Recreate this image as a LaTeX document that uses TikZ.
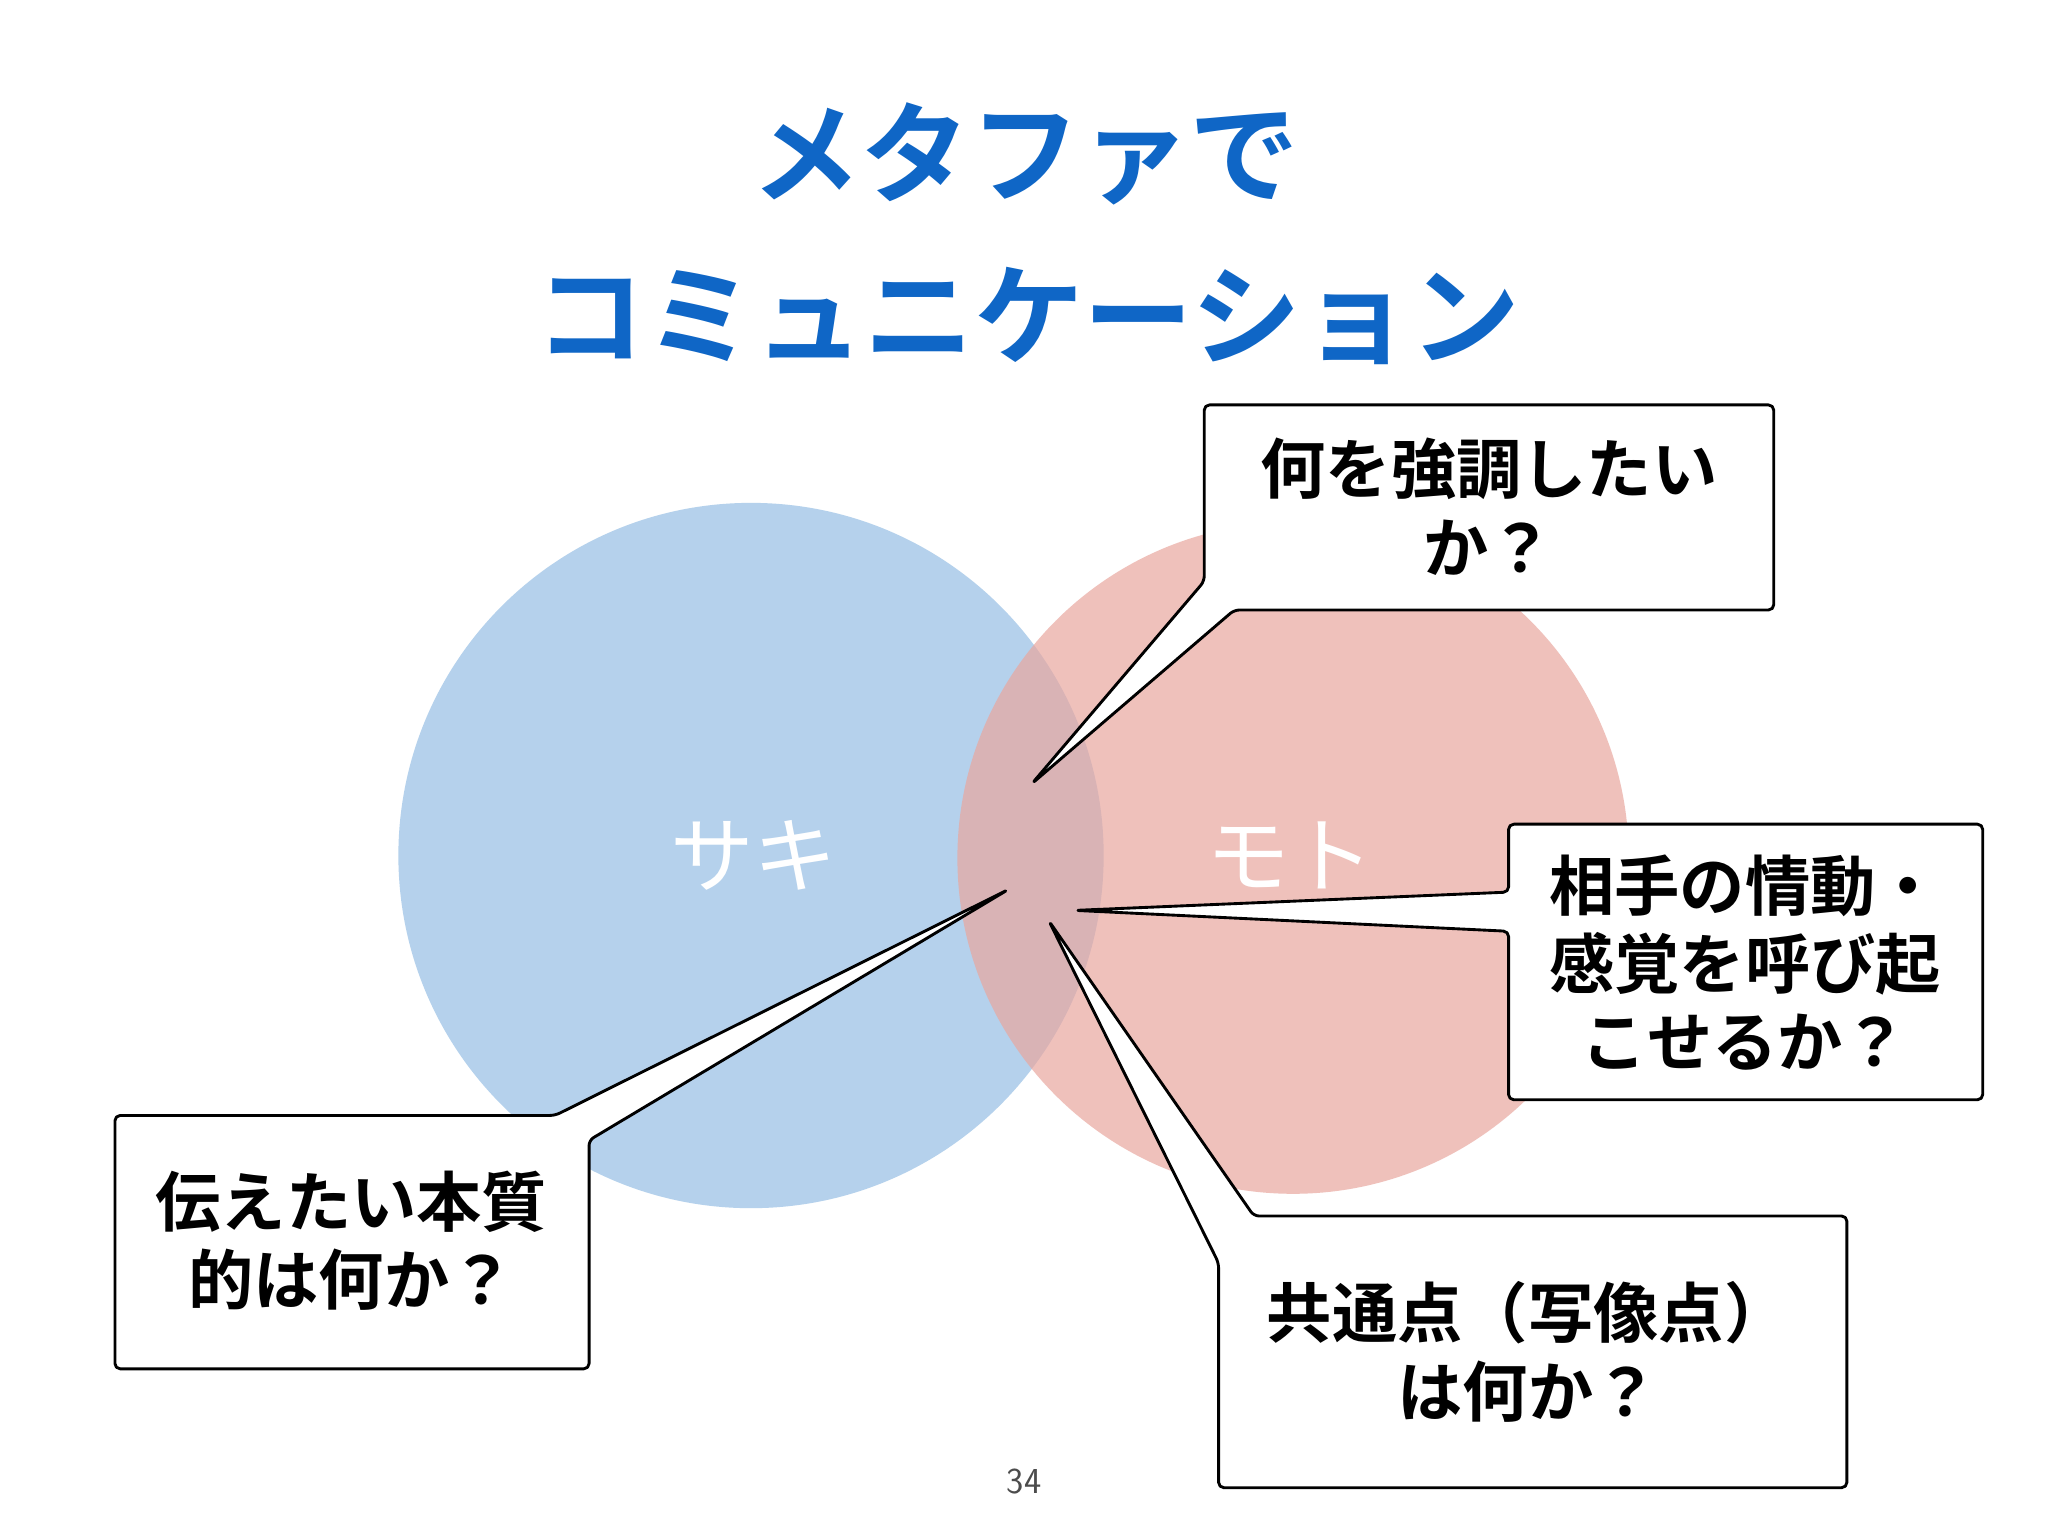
\documentclass[tikz,border=0pt]{standalone}
\usepackage{fontspec}
\newfontfamily\jp{Noto Sans CJK JP}[BoldFont={* Bold}]
\definecolor{ttl}{HTML}{0F66C6}
\definecolor{cblue}{HTML}{B5D1EC}
\definecolor{cpink}{HTML}{E9A79F}
\tikzset{callout/.style={draw=black,line width=2.2pt,fill=white,rounded corners=4pt,line join=round},
 ctext/.style={font=\jp\bfseries\fontsize{50}{60}\selectfont,align=center,inner sep=0}}
\begin{document}
\begin{tikzpicture}[x=1pt,y=-1pt]
\useasboundingbox (0,0) rectangle (1568,1176);
\fill[white] (0,0) rectangle (1568,1176);
\node[font=\jp\bfseries\fontsize{84}{100}\selectfont,text=ttl] (t1) at (785,118) {メタファで};
\node[font=\jp\bfseries\fontsize{84}{100}\selectfont,text=ttl] (t2) at (787,242) {コミュニケーション};
\fill[cblue] (575,655) circle (270);
\fill[cpink,opacity=0.7] (990,657) circle (257);
\node[font=\jp\fontsize{64}{70}\selectfont,text=white] (saki) at (577,655) {サキ};
\node[font=\jp\fontsize{64}{70}\selectfont,text=white] (moto) at (988,655) {モト};
\coordinate (p1) at (790,600);
\coordinate (p2) at (823,697);
\coordinate (p3) at (803,705);
\coordinate (p4) at (772,681);
\draw[callout] (922,445) -- (922,310) -- (1358,310) -- (1358,467) -- (945,467) -- (p1) -- cycle;
\draw[callout] (1155,683) -- (1155,631) -- (1518,631) -- (1518,842) -- (1155,842) -- (1155,713) -- (p2) -- cycle;
\draw[callout] (960,931) -- (1414,931) -- (1414,1139) -- (933,1139) -- (933,967) -- (p3) -- cycle;
\draw[callout] (425,854) -- (p4) -- (451,873) -- (451,1048) -- (88,1048) -- (88,854) -- cycle;
\node[ctext] (b1) at (1140,388) {何を強調したい\\か？};
\node[ctext] (b2) at (1336,737) {相手の情動・\\感覚を呼び起\\こせるか？};
\node[ctext] (b3) at (1170,1035) {共通点（写像点）\\は何か？};
\node[ctext] (b4) at (269,950) {伝えたい本質\\的は何か？};
\node[font=\sffamily\fontsize{28}{30}\selectfont,text=black!70] (pg) at (784,1134) {34};
\end{tikzpicture}
\end{document}
